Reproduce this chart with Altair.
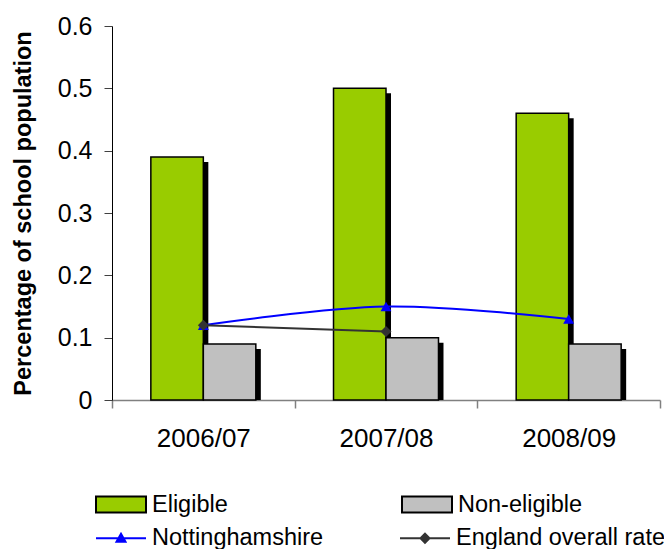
import altair as alt
import pandas as pd

years = ["2006/07", "2007/08", "2008/09"]
eligible = [0.39, 0.50, 0.46]
non_eligible = [0.09, 0.10, 0.09]
nottinghamshire = [0.12, 0.15, 0.13]
england = [0.12, 0.11, None]

bar_series = ["Eligible", "Non-eligible"]
line_series = ["Nottinghamshire", "England overall rate"]
bar_colors = ["#99CC00", "#C0C0C0"]
line_colors = ["#0000FF", "#333333"]

bars_df = pd.DataFrame({
    "year": years * 2,
    "series": [bar_series[0]] * 3 + [bar_series[1]] * 3,
    "value": eligible + non_eligible,
})
lines_df = pd.DataFrame({
    "year": years * 2,
    "series": [line_series[0]] * 3 + [line_series[1]] * 3,
    "value": nottinghamshire + england,
}).dropna()

FONT = "Liberation Sans"

x_enc = alt.X(
    "year:N", sort=years,
    scale=alt.Scale(paddingInner=0, paddingOuter=0),
    axis=alt.Axis(title=None, tickBand="extent", labelAngle=0, labelFontSize=26,
                  labelFont=FONT, labelColor="black", labelPadding=17, tickSize=8,
                  domainColor="#808080", tickColor="#808080", domainWidth=1.5,
                  tickWidth=1.5),
)
y_enc = alt.Y(
    "value:Q", scale=alt.Scale(domain=[0, 0.6]),
    axis=alt.Axis(values=[0, 0.1, 0.2, 0.3, 0.4, 0.5, 0.6], format=".1~f",
                  title="Percentage of school population", titleFont=FONT,
                  titleFontSize=23.5, titleFontWeight="bold", titleColor="black",
                  titlePadding=22, labelFont=FONT, labelFontSize=25,
                  labelColor="black", labelPadding=12, tickSize=8,
                  domainColor="black", tickColor="#404040", grid=False),
)
xoff = alt.XOffset("series:N", sort=bar_series,
                   scale=alt.Scale(paddingInner=0, paddingOuter=0.74))
# shadow: same bars, shifted a few pixels right
xoff_shadow = alt.XOffset("series:N", sort=bar_series,
                          scale=alt.Scale(paddingInner=0, paddingOuter=0.74,
                                          range=[5, 187.67]))

shadow = alt.Chart(bars_df).mark_bar(color="black", yOffset=5, clip=True).encode(
    x=x_enc, xOffset=xoff_shadow, y=y_enc)

bars = alt.Chart(bars_df).mark_bar(stroke="black", strokeWidth=1.5).encode(
    x=x_enc, xOffset=xoff, y=y_enc,
    fill=alt.Fill("series:N", scale=alt.Scale(domain=bar_series, range=bar_colors),
                  legend=alt.Legend(title=None, orient="none", legendX=-17, legendY=452.5,
                                    direction="horizontal", columns=2, columnPadding=170,
                                    symbolType="M-1,-0.32H1V0.32H-1Z", symbolSize=2500,
                                    symbolStrokeColor="black", symbolStrokeWidth=2,
                                    labelFont=FONT, labelFontSize=23.5, labelColor="black",
                                    labelOffset=5, labelLimit=400, padding=0)),
)


def series_layer(i, shape):
    base = alt.Chart(lines_df).transform_filter(alt.datum.series == line_series[i])
    ln = base.mark_line(strokeWidth=2, interpolate="catmull-rom",
                        color=line_colors[i]).encode(x=x_enc, y=y_enc)
    pt = base.mark_point(filled=True, size=120, opacity=1, shape=shape,
                         color=line_colors[i]).encode(x=x_enc, y=y_enc)
    return ln, pt


notts_line, notts_pts = series_layer(0, "triangle-up")
eng_line, eng_pts = series_layer(1, "diamond")

line_legend = alt.Legend(title=None, orient="none", legendX=-17, legendY=486,
                         direction="horizontal", columns=2, columnPadding=72,
                         symbolSize=2500, symbolStrokeWidth=2,
                         labelFont=FONT, labelFontSize=23.5, labelColor="black",
                         labelOffset=5, labelLimit=400, padding=0)

legend_paths = ["M-1,0H1M-0.18,0.14L0,-0.18L0.18,0.14Z",
                "M-1,0H1M0,-0.18L0.18,0L0,0.18L-0.18,0Z"]

legend_layer = alt.Chart(lines_df).transform_filter("false").mark_point(
    filled=True, strokeWidth=2, opacity=1
).encode(
    x=x_enc, y=y_enc,
    color=alt.Color("series:N", scale=alt.Scale(domain=line_series, range=line_colors),
                    legend=line_legend),
    stroke=alt.Stroke("series:N", scale=alt.Scale(domain=line_series, range=line_colors),
                      legend=line_legend),
    shape=alt.Shape("series:N", scale=alt.Scale(domain=line_series, range=legend_paths),
                    legend=line_legend),
)

chart = alt.layer(shadow, bars, notts_line, eng_line, notts_pts, eng_pts,
                  legend_layer).resolve_scale(
    xOffset="independent"
).properties(
    width=548, height=374,
    autosize=alt.AutoSizeParams(type="none"),
    padding={"left": 104, "top": 18, "right": 4, "bottom": 149},
).configure(font=FONT).configure_view(stroke=None)

chart.save("out.html", embed_options={"renderer": "svg", "actions": False})
